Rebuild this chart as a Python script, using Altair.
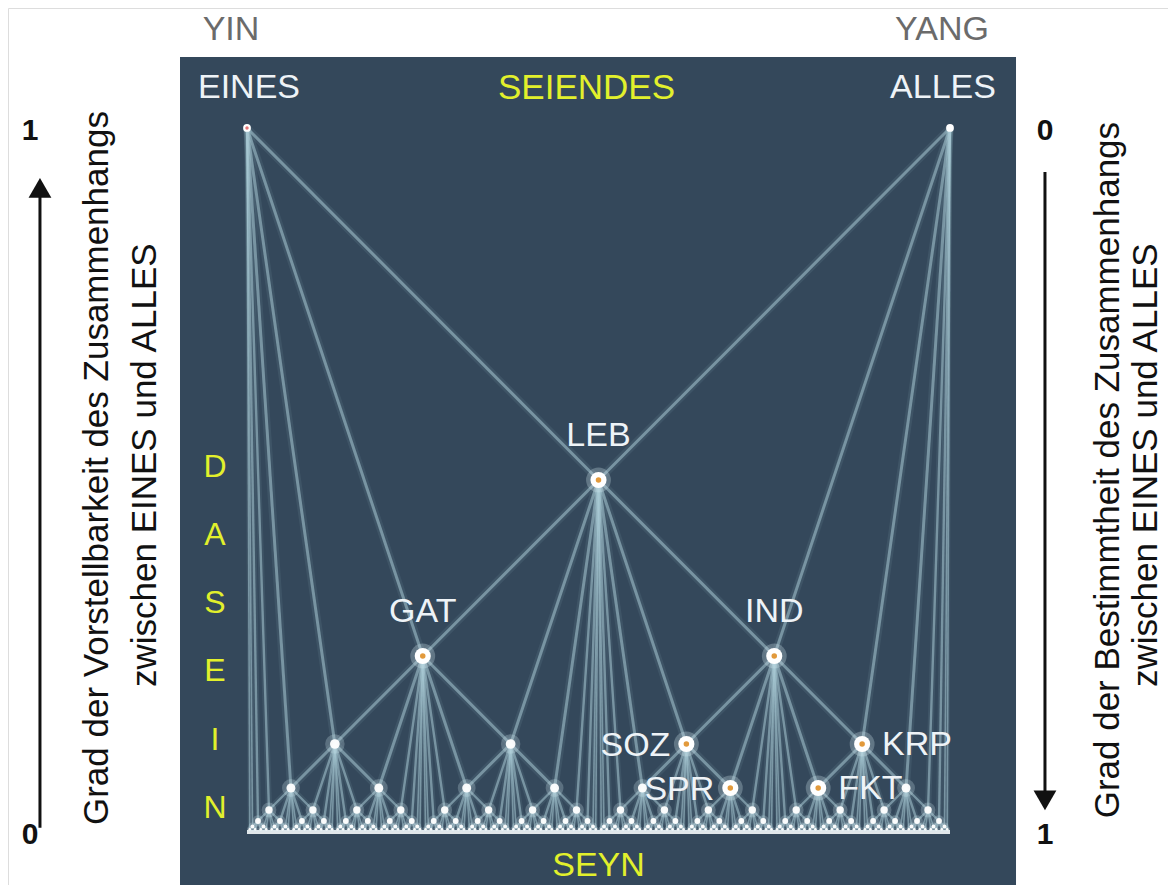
import altair as alt
import pandas as pd
from fractions import Fraction

# ---------------- data ----------------
MAX_LEVEL = 8  # depth of the dyadic lattice between EINES (0) and ALLES (1)

pole_labels = ["EINES", "ALLES"]
pole_pos = [0.0, 1.0]

top_labels = ["LEB", "GAT", "IND"]
top_pos = [0.5, 0.25, 0.75]
left_labels = ["SOZ", "SPR"]
left_pos = [0.625, 0.6875]
right_labels = ["KRP", "FKT"]
right_pos = [0.875, 0.8125]

dasein_letters = ["D", "A", "S", "E", "I", "N"]
left_axis_vals = [1, 0]
right_axis_vals = [0, 1]
left_title = ["Grad der Vorstellbarkeit des Zusammenhangs", "zwischen EINES  und ALLES"]
right_title = ["Grad der Bestimmtheit des Zusammenhangs", "zwischen EINES  und ALLES"]


def level_of(f):
    if f.denominator == 1:
        return 0
    return f.denominator.bit_length() - 1


node_rows, edge_rows = [], []
for lvl in range(MAX_LEVEL + 1):
    if lvl == 0:
        fracs = [Fraction(0), Fraction(1)]
    else:
        fracs = [Fraction(m, 2 ** lvl) for m in range(1, 2 ** lvl, 2)]
    for f in fracs:
        node_rows.append({"pos": float(f), "level": lvl, "v": 0.5 ** lvl})
        if lvl > 0:
            for g in (f - Fraction(1, 2 ** lvl), f + Fraction(1, 2 ** lvl)):
                edge_rows.append({"pos": float(f), "v": 0.5 ** lvl,
                                  "pos2": float(g), "v2": 0.5 ** level_of(g),
                                  "level": lvl})

nodes_df = pd.DataFrame(node_rows)
edges_df = pd.DataFrame(edge_rows)
edges_df["sw"] = edges_df["level"].map(lambda l: 3.0 if l <= 4 else (2.4 if l <= 6 else 1.6))
edges_df["gw"] = edges_df["sw"] * 2.6

named_pos = top_pos + left_pos + right_pos
gen_df = nodes_df[(nodes_df.level >= 3) & (~nodes_df.pos.isin(named_pos))].copy()
size_map = {3: 95, 4: 80, 5: 55, 6: 34, 7: 16, 8: 7}
gen_df["sz"] = gen_df["level"].map(size_map)
gen_df["gsz"] = gen_df["sz"] * 4

named_df = pd.DataFrame({"pos": named_pos,
                         "v": [0.5 ** level_of(Fraction(p)) for p in named_pos]})
top_df = pd.DataFrame({"label": top_labels, "pos": top_pos,
                       "v": [0.5 ** level_of(Fraction(p)) for p in top_pos]})
left_df = pd.DataFrame({"label": left_labels, "pos": left_pos,
                        "v": [0.5 ** level_of(Fraction(p)) for p in left_pos]})
right_df = pd.DataFrame({"label": right_labels, "pos": right_pos,
                         "v": [0.5 ** level_of(Fraction(p)) for p in right_pos]})
pole_df = pd.DataFrame({"label": pole_labels, "pos": pole_pos, "v": [1.0, 1.0]})

# ---------------- scales (pixel-true square lattice) ----------------
X_DOM = [-0.33997, 1.31010]
Y_DOM = [-0.07528, 1.17045]
xs = alt.Scale(domain=X_DOM, nice=False, zero=False)
ys = alt.Scale(domain=Y_DOM, nice=False, zero=False)


def XQ(f):
    return alt.X(f, type="quantitative", scale=xs, axis=None)


def YQ(f):
    return alt.Y(f, type="quantitative", scale=ys, axis=None)


FONT = "Liberation Sans"
WHITE_TXT = "#eef3f7"
YELLOW = "#e2f02c"

# panel
panel_df = pd.DataFrame({"x": [-0.0953], "x2": [1.0939], "y": [1.1009], "y2": [Y_DOM[0]]})
panel = alt.Chart(panel_df).mark_rect(color="#34485b").encode(
    x=XQ("x"), x2="x2", y=YQ("y"), y2="y2")

edges_glow = alt.Chart(edges_df).mark_rule(color="#9cc2cf", opacity=0.10).encode(
    x=XQ("pos"), x2="pos2", y=YQ("v"), y2="v2",
    strokeWidth=alt.StrokeWidth("gw:Q", scale=None))
edges = alt.Chart(edges_df).mark_rule(color="#a8c8d3", opacity=0.55).encode(
    x=XQ("pos"), x2="pos2", y=YQ("v"), y2="v2",
    strokeWidth=alt.StrokeWidth("sw:Q", scale=None))

base_df = pd.DataFrame({"x": [0.0], "x2": [1.0], "y": [0.0]})
baseline = alt.Chart(base_df).mark_rule(color="#f4f8fa", strokeWidth=4, opacity=0.9).encode(
    x=XQ("x"), x2="x2", y=YQ("y"))

gen_glow = alt.Chart(gen_df).mark_circle(color="#cfe8f0", opacity=0.25).encode(
    x=XQ("pos"), y=YQ("v"), size=alt.Size("gsz:Q", scale=None))
gen_core = alt.Chart(gen_df).mark_circle(color="#ffffff", opacity=0.95).encode(
    x=XQ("pos"), y=YQ("v"), size=alt.Size("sz:Q", scale=None))

named_glow = alt.Chart(named_df).mark_circle(color="#d9eef5", opacity=0.28, size=620).encode(
    x=XQ("pos"), y=YQ("v"))
named_core = alt.Chart(named_df).mark_circle(color="#ffffff", opacity=1, size=260).encode(
    x=XQ("pos"), y=YQ("v"))
named_dot = alt.Chart(named_df).mark_circle(color="#e29a3c", opacity=1, size=30).encode(
    x=XQ("pos"), y=YQ("v"))

pole_dot = alt.Chart(pole_df).mark_circle(color="#ffffff", opacity=1, size=60).encode(
    x=XQ("pos"), y=YQ("v"))
eines_red = alt.Chart(pole_df[pole_df.label == "EINES"]).mark_circle(
    color="#d83a3a", size=12, dx=-3, dy=-3).encode(x=XQ("pos"), y=YQ("v"))

# node labels
top_txt = alt.Chart(top_df).mark_text(font=FONT, fontSize=34, color=WHITE_TXT,
                                      align="center", baseline="middle", dy=-44).encode(
    x=XQ("pos"), y=YQ("v"), text="label:N")
left_txt = alt.Chart(left_df).mark_text(font=FONT, fontSize=34, color=WHITE_TXT,
                                        align="right", baseline="middle", dx=-16, dy=2).encode(
    x=XQ("pos"), y=YQ("v"), text="label:N")
right_txt = alt.Chart(right_df).mark_text(font=FONT, fontSize=34, color=WHITE_TXT,
                                          align="left", baseline="middle", dx=20, dy=1).encode(
    x=XQ("pos"), y=YQ("v"), text="label:N")

eines_txt = alt.Chart(pole_df[pole_df.label == "EINES"]).mark_text(
    font=FONT, fontSize=34, color=WHITE_TXT, align="center", baseline="middle", dx=2, dy=-40).encode(
    x=XQ("pos"), y=YQ("v"), text="label:N")
alles_txt = alt.Chart(pole_df[pole_df.label == "ALLES"]).mark_text(
    font=FONT, fontSize=34, color=WHITE_TXT, align="center", baseline="middle", dx=-7, dy=-40).encode(
    x=XQ("pos"), y=YQ("v"), text="label:N")

yin_df = pd.DataFrame({"label": ["YIN"], "pos": [0.0], "v": [1.0]})
yang_df = pd.DataFrame({"label": ["YANG"], "pos": [1.0], "v": [1.0]})
yin_txt = alt.Chart(yin_df).mark_text(font=FONT, fontSize=34, color="#6b6b6b",
                                      align="center", baseline="middle", dx=-16, dy=-98).encode(
    x=XQ("pos"), y=YQ("v"), text="label:N")
yang_txt = alt.Chart(yang_df).mark_text(font=FONT, fontSize=34, color="#6b6b6b",
                                        align="center", baseline="middle", dx=-8, dy=-98).encode(
    x=XQ("pos"), y=YQ("v"), text="label:N")

seiendes_df = pd.DataFrame({"label": ["SEIENDES"], "pos": [0.5], "v": [1.0]})
seyn_df = pd.DataFrame({"label": ["SEYN"], "pos": [0.5], "v": [0.0]})
seiendes_txt = alt.Chart(seiendes_df).mark_text(font=FONT, fontSize=35, color=YELLOW,
                                                align="center", baseline="middle", dx=-12, dy=-40).encode(
    x=XQ("pos"), y=YQ("v"), text="label:N")
seyn_txt = alt.Chart(seyn_df).mark_text(font=FONT, fontSize=34, color=YELLOW,
                                        align="center", baseline="middle", dx=0, dy=34).encode(
    x=XQ("pos"), y=YQ("v"), text="label:N")

dasein_df = pd.DataFrame({"label": dasein_letters,
                          "pos": [-0.0455] * len(dasein_letters),
                          "v": [0.519 - i * 0.0970 for i in range(len(dasein_letters))]})
dasein_txt = alt.Chart(dasein_df).mark_text(font=FONT, fontSize=32, color=YELLOW,
                                            align="center", baseline="middle").encode(
    x=XQ("pos"), y=YQ("v"), text="label:N")

# side scales: numbers, arrows, rotated titles
lnum_df = pd.DataFrame({"label": [str(v) for v in left_axis_vals], "pos": [-0.3087] * 2,
                        "v": [float(v) for v in left_axis_vals]})
rnum_df = pd.DataFrame({"label": [str(v) for v in right_axis_vals], "pos": [1.1351] * 2,
                        "v": [1.0 - float(v) for v in right_axis_vals]})
num_txt = alt.Chart(pd.concat([lnum_df, rnum_df])).mark_text(
    font=FONT, fontSize=30, fontWeight="bold", color="#111111",
    align="center", baseline="middle", dy=3).encode(
    x=XQ("pos"), y=YQ("v"), text="label:N")

larrow_df = pd.DataFrame({"x": [-0.2945], "y": [0.006], "y2": [0.905]})
larrow = alt.Chart(larrow_df).mark_rule(color="#111111", strokeWidth=3).encode(
    x=XQ("x"), y=YQ("y"), y2="y2")
lhead_df = pd.DataFrame({"x": [-0.2945], "y": [0.915]})
lhead = alt.Chart(lhead_df).mark_point(shape="triangle-up", filled=True, color="#111111",
                                       opacity=1, size=520).encode(x=XQ("x"), y=YQ("y"))

rarrow_df = pd.DataFrame({"x": [1.1351], "y": [0.9375], "y2": [0.055]})
rarrow = alt.Chart(rarrow_df).mark_rule(color="#111111", strokeWidth=3).encode(
    x=XQ("x"), y=YQ("y"), y2="y2")
rhead_df = pd.DataFrame({"x": [1.1351], "y": [0.045]})
rhead = alt.Chart(rhead_df).mark_point(shape="triangle-down", filled=True, color="#111111",
                                       opacity=1, size=520).encode(x=XQ("x"), y=YQ("y"))

titles_df = pd.DataFrame({
    "label": left_title + right_title,
    "pos": [-0.2134, -0.1451, 1.2248, 1.2790],
    "v": [0.517, 0.521, 0.514, 0.521],
})
titles_txt = alt.Chart(titles_df).mark_text(font=FONT, fontSize=35, color="#111111",
                                            align="center", baseline="middle", angle=270).encode(
    x=XQ("pos"), y=YQ("v"), text="label:N")

chart = alt.layer(
    panel, edges_glow, edges, baseline, gen_glow, gen_core,
    named_glow, named_core, named_dot, pole_dot, eines_red,
    top_txt, left_txt, right_txt, eines_txt, alles_txt, yin_txt, yang_txt,
    seiendes_txt, seyn_txt, dasein_txt,
    num_txt, larrow, lhead, rarrow, rhead, titles_txt,
).properties(
    width=1160, height=877, padding=0,
    autosize=alt.AutoSizeParams(type="none"),
).configure_view(strokeWidth=0).configure(background="white")

chart.save("out.html", embed_options={"renderer": "svg", "actions": False})
